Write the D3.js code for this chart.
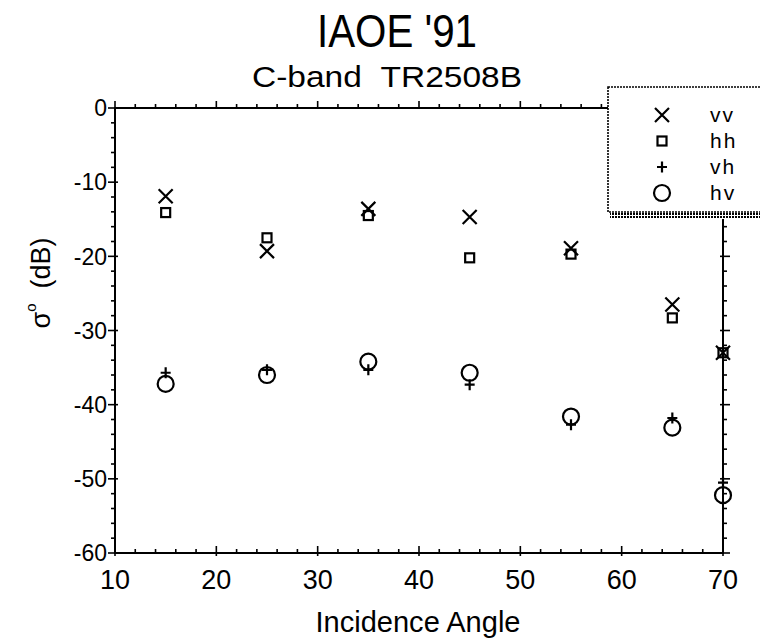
<!DOCTYPE html>
<html><head><meta charset="utf-8">
<script src="https://cdn.jsdelivr.net/npm/d3@7"></script>
<style>html,body{margin:0;padding:0;background:#fff}svg{display:block}text{font-family:"Liberation Sans",Arial,Helvetica,sans-serif;fill:#000}</style>
</head><body>
<script>
const angles = [15, 25, 35, 45, 55, 65, 70];
const vv = [-11.9, -19.3, -13.6, -14.7, -18.9, -26.5, -33.0];
const hh = [-14.1, -17.5, -14.5, -20.2, -19.7, -28.3, -33.0];
const vh = [-35.7, -35.3, -35.3, -37.3, -42.7, -41.8, -50.5];
const hv = [-37.2, -36.0, -34.2, -35.7, -41.6, -43.1, -52.2];
const xTicks = [10, 20, 30, 40, 50, 60, 70];
const yTicks = [0, -10, -20, -30, -40, -50, -60];
const seriesNames = ["vv", "hh", "vh", "hv"];

const W = 760, H = 641;
const L = 115, R = 723, T = 108, B = 553;
const svg = d3.select("body").append("svg").attr("width", W).attr("height", H);
const x = d3.scaleLinear().domain([10, 70]).range([L, R]);
const y = d3.scaleLinear().domain([-60, 0]).range([B, T]);

// frame
const g = svg.append("g").attr("stroke", "#000").attr("fill", "none");
g.append("rect").attr("x", L).attr("y", T).attr("width", R - L).attr("height", B - T).attr("stroke-width", 2);

// ticks (major every 10, minor every 2)
const xMinor = d3.range(10, 70.1, 2);
const yMinor = d3.range(-60, 0.1, 2);
const tk = svg.append("g").attr("stroke", "#000").attr("stroke-width", 1.6);
xMinor.forEach(v => {
  const maj = xTicks.includes(v);
  const len = maj ? 7 : 4;
  tk.append("line").attr("x1", x(v)).attr("x2", x(v)).attr("y1", B + (maj ? 3 : 0)).attr("y2", B - len);
  tk.append("line").attr("x1", x(v)).attr("x2", x(v)).attr("y1", T).attr("y2", T - len);
});
yMinor.forEach(v => {
  const maj = yTicks.includes(v);
  const len = maj ? 7 : 4;
  tk.append("line").attr("y1", y(v)).attr("y2", y(v)).attr("x1", L + (maj ? 3 : 0)).attr("x2", L - len);
  tk.append("line").attr("y1", y(v)).attr("y2", y(v)).attr("x1", R - (maj ? 3 : 0)).attr("x2", R + len);
});

// tick labels
svg.append("g").selectAll("text").data(yTicks).join("text")
  .attr("x", L - 8).attr("y", d => y(d)).attr("dy", "0.36em")
  .attr("text-anchor", "end").attr("font-size", 23).text(d => d);
svg.append("g").selectAll("text").data(xTicks).join("text")
  .attr("x", d => x(d)).attr("y", 589)
  .attr("text-anchor", "middle").attr("font-size", 28)
  .attr("textLength", 30).attr("lengthAdjust", "spacingAndGlyphs").text(d => d);

// titles
svg.append("text").attr("x", 397).attr("y", 47).attr("text-anchor", "middle").attr("font-size", 46)
  .attr("textLength", 160).attr("lengthAdjust", "spacingAndGlyphs").text("IAOE '91");
svg.append("text").attr("x", 387).attr("y", 87).attr("text-anchor", "middle").attr("font-size", 30)
  .attr("textLength", 270).attr("lengthAdjust", "spacingAndGlyphs").text("C-band\u00A0\u00A0TR2508B");
svg.append("text").attr("x", 418).attr("y", 632).attr("text-anchor", "middle").attr("font-size", 29)
  .attr("textLength", 205).attr("lengthAdjust", "spacingAndGlyphs").text("Incidence Angle");
const yl = svg.append("text").attr("transform", "translate(50,283) rotate(-90)").attr("text-anchor", "middle").attr("font-size", 27);
yl.append("tspan").text("σ");
yl.append("tspan").attr("dy", -14).attr("font-size", 15).text("o");
yl.append("tspan").attr("dy", 14).text("\u00A0\u00A0(dB)");

// symbols
function drawSym(sel, type, cx, cy) {
  const s = sel.append("g").attr("transform", `translate(${cx},${cy})`).attr("stroke", "#000").attr("fill", "none").attr("stroke-width", 2.2);
  if (type === "vv") {
    s.append("path").attr("d", "M-7,-7L7,7M-7,7L7,-7");
  } else if (type === "hh") {
    s.append("rect").attr("x", -4.5).attr("y", -4.5).attr("width", 9).attr("height", 9);
  } else if (type === "vh") {
    s.append("path").attr("d", "M-5,0L5,0M0,-5.5L0,5.5");
  } else {
    s.append("circle").attr("r", 8);
  }
}
const data = {vv, hh, vh, hv};
const pts = svg.append("g");
seriesNames.forEach(n => {
  data[n].forEach((v, i) => drawSym(pts, n, x(angles[i]), y(v)));
});

// legend
const lg = svg.append("g");
const defs = svg.append("defs");
const pat = defs.append("pattern").attr("id", "chk").attr("width", 3).attr("height", 3).attr("patternUnits", "userSpaceOnUse");
pat.append("rect").attr("width", 3).attr("height", 3).attr("fill", "#fff");
pat.append("rect").attr("width", 2).attr("height", 2).attr("fill", "#000");
lg.append("rect").attr("x", 610).attr("y", 212).attr("width", 160).attr("height", 7).attr("fill", "url(#chk)");
lg.append("rect").attr("x", 608).attr("y", 87).attr("width", 170).attr("height", 125)
  .attr("fill", "#fff").attr("stroke", "#000").attr("stroke-width", 1.6).attr("stroke-dasharray", "2,1");
seriesNames.forEach((n, i) => {
  const cy = 115 + i * 26;
  drawSym(lg, n, 662, cy);
  lg.append("text").attr("x", 710).attr("y", cy).attr("dy", "0.35em").attr("font-size", 21)
    .attr("letter-spacing", 2).text(n);
});
</script>
</body></html>
